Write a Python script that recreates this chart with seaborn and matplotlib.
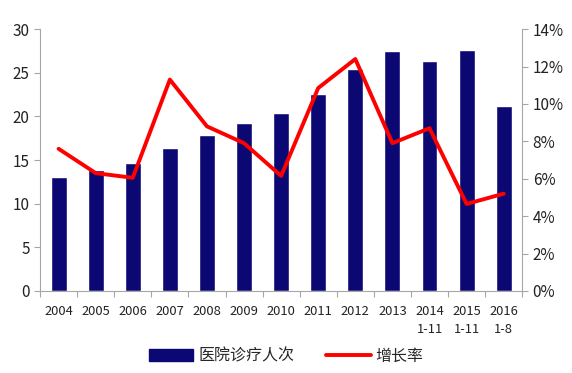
import numpy as np
import pandas as pd
import matplotlib
matplotlib.use("Agg")
import matplotlib.pyplot as plt
import seaborn as sns
from matplotlib.patches import Patch
from matplotlib.lines import Line2D

categories = ["2004", "2005", "2006", "2007", "2008", "2009", "2010", "2011",
              "2012", "2013", "2014\n1-11", "2015\n1-11", "2016\n1-8"]
visits = [13.05, 13.85, 14.65, 16.4, 17.9, 19.25, 20.4, 22.55, 25.4, 27.5, 26.35, 27.55, 21.2]
growth = [7.6, 6.3, 6.05, 11.3, 8.8, 7.9, 6.15, 10.85, 12.4, 7.9, 8.7, 4.65, 5.2]
bar_label = "医院诊疗人次"
line_label = "增长率"

sns.set_style("white")
plt.rcParams['font.family'] = ['Noto Sans CJK SC', 'DejaVu Sans']

df = pd.DataFrame({"cat": categories, "visits": visits, "growth": growth, "pos": np.arange(len(categories))})

fig = plt.figure(figsize=(5.72, 3.73), dpi=100)
ax = fig.add_axes([0.07, 0.22, 0.843, 0.702])
navy = "#0c0873"
sns.barplot(data=df, x="cat", y="visits", color=navy, width=0.43, ax=ax, saturation=1)
ax.set_ylim(0, 30)
ax.set_xlim(-0.5, len(categories) - 0.5)
ax.set_yticks(range(0, 31, 5))
ax.set_xlabel("")
ax.set_ylabel("")

ax2 = ax.twinx()
sns.lineplot(data=df, x="pos", y="growth", color="#ff0000", linewidth=2.8, ax=ax2)
ax2.set_ylim(0, 14)
ax2.set_yticks(range(0, 15, 2))
ax2.set_yticklabels([f"{v}%" for v in range(0, 15, 2)])
ax2.set_xlim(-0.5, len(categories) - 0.5)
ax2.set_ylabel("")
ax2.set_xlabel("")

grey = "#a6a6a6"
for a in (ax, ax2):
    for s in a.spines.values():
        s.set_visible(False)
ax.spines["left"].set_visible(True)
ax.spines["left"].set_color(grey)
ax.spines["bottom"].set_visible(True)
ax.spines["bottom"].set_color(grey)
ax2.spines["right"].set_visible(True)
ax2.spines["right"].set_color(grey)

ax.tick_params(axis="y", direction="out", length=4, color=grey, labelsize=11, labelcolor="#222222", left=True)
ax2.tick_params(axis="y", direction="out", length=4, color=grey, labelsize=11, labelcolor="#222222", right=True)

# category labels as minor ticks, separators as major ticks
ax.set_xticks(np.arange(-0.5, len(categories), 1.0))
ax.set_xticklabels([])
ax.set_xticks(np.arange(len(categories)), minor=True)
ax.set_xticklabels(categories, minor=True, fontsize=9.3, linespacing=1.5, color="#222222")
ax.tick_params(axis="x", which="major", direction="out", length=4, color=grey, bottom=True)
ax.tick_params(axis="x", which="minor", length=0, pad=10)
ax2.tick_params(axis="x", which="both", length=0, labelbottom=False)

handles = [Patch(facecolor=navy, edgecolor=navy, label=bar_label),
           Line2D([0], [0], color="#ff0000", linewidth=2.8, label=line_label)]
fig.legend(handles=handles, loc="center", bbox_to_anchor=(0.5, 0.045), ncol=2, frameon=False,
           fontsize=11.5, handlelength=2.8, handleheight=0.8, columnspacing=2.0, handletextpad=0.3)

fig.savefig("out.png", dpi=100)
